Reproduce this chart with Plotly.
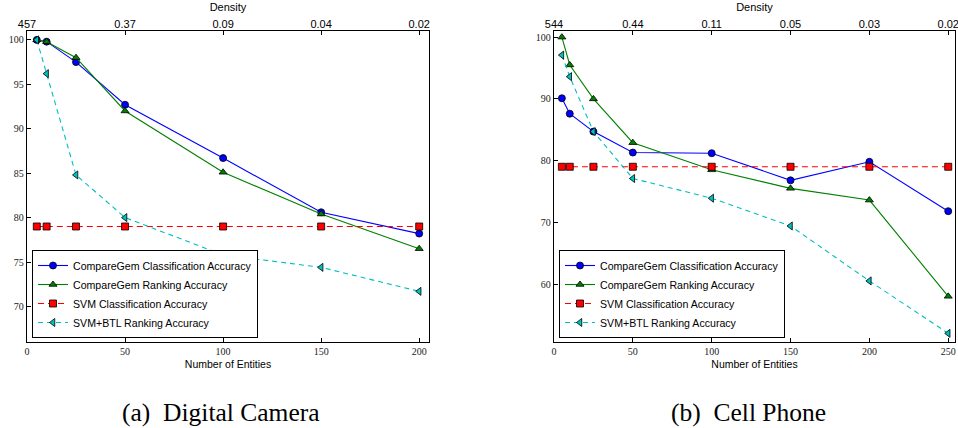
import plotly.graph_objects as go

W, H = 958, 428

# ---------------- data ----------------
series_names = [
    "CompareGem Classification Accuracy",
    "CompareGem Ranking Accuracy",
    "SVM Classification Accuracy",
    "SVM+BTL Ranking Accuracy",
]

cam_x = [5, 10, 25, 50, 100, 150, 200]
cam_cg_class = [100, 99.8, 97.5, 92.7, 86.7, 80.6, 78.2]
cam_cg_rank = [100, 99.8, 98.0, 92.0, 85.1, 80.4, 76.5]
cam_svm_class = [79, 79, 79, 79, 79, 79, 79]
cam_svmbtl_rank = [100, 96.2, 84.8, 80.0, 75.8, 74.4, 71.7]
cam_xticks = [0, 50, 100, 150, 200]
cam_yticks = [70, 75, 80, 85, 90, 95, 100]
cam_density_labels = ["457", "0.37", "0.09", "0.04", "0.02"]

phone_x = [5, 10, 25, 50, 100, 150, 200, 250]
phone_cg_class = [90.1, 87.6, 84.7, 81.3, 81.2, 76.8, 79.8, 71.8]
phone_cg_rank = [100, 95.5, 90.0, 82.9, 78.5, 75.5, 73.6, 58.0]
phone_svm_class = [79, 79, 79, 79, 79, 79, 79, 79]
phone_svmbtl_rank = [97.1, 93.6, 84.7, 77.1, 73.9, 69.4, 60.5, 52.0]
phone_xticks = [0, 50, 100, 150, 200, 250]
phone_yticks = [60, 70, 80, 90, 100]
phone_density_labels = ["544", "0.44", "0.11", "0.05", "0.03", "0.02"]

captions = ["(a)  Digital Camera", "(b)  Cell Phone"]

# ---------------- styles ----------------
styles = [
    dict(color="#0000ff", symbol="circle", dash="solid", size=7),
    dict(color="#008000", symbol="triangle-up", dash="solid", size=7),
    dict(color="#ff0000", symbol="square", dash="6px,4px", size=7),
    dict(color="#00bfbf", symbol="triangle-left", dash="5px,4px", size=7),
]

SERIF = "Liberation Serif"
SANS = "Liberation Sans"


def px_x(p):
    return p / W


def px_y(p):
    return 1 - p / H


fig = go.Figure()

panels = [
    dict(x=cam_x, ys=[cam_cg_class, cam_cg_rank, cam_svm_class, cam_svmbtl_rank],
         xa="x", ya="y", legend="legend"),
    dict(x=phone_x, ys=[phone_cg_class, phone_cg_rank, phone_svm_class, phone_svmbtl_rank],
         xa="x2", ya="y2", legend="legend2"),
]

for p in panels:
    for name, ys, st in zip(series_names, p["ys"], styles):
        fig.add_trace(go.Scatter(
            x=p["x"], y=ys, name=name, mode="lines+markers",
            xaxis=p["xa"], yaxis=p["ya"], legend=p["legend"],
            line=dict(color=st["color"], width=1.1, dash=st["dash"]),
            marker=dict(symbol=st["symbol"], size=st["size"], color=st["color"],
                        line=dict(color="black", width=0.8)),
        ))

# ---------------- axes ----------------
tickfont = dict(family=SERIF, size=10, color="#222")
common = dict(showline=True, linecolor="black", linewidth=1.3, mirror=True,
              ticks="inside", ticklen=4, tickwidth=1, tickcolor="black",
              showgrid=False, zeroline=False, tickfont=tickfont, automargin=False,
              ticklabeloverflow="allow")

dom_left = [px_x(27), px_x(429)]
dom_right = [px_x(554), px_x(955)]
dom_y = [px_y(342), px_y(31)]

top_common = dict(ticks="inside", ticklen=4, tickcolor="black", showline=False,
                  showgrid=False, zeroline=False, automargin=False,
                  ticklabeloverflow="allow",
                  tickfont=dict(family=SANS, size=11, color="black"))

fig.update_layout(
    width=W, height=H,
    margin=dict(l=0, r=0, t=0, b=0, pad=0, autoexpand=False),
    paper_bgcolor="white", plot_bgcolor="white",
    xaxis=dict(domain=dom_left, range=[0, 205], tickvals=cam_xticks, anchor="y",
               title=dict(text="Number of Entities", font=dict(family=SANS, size=10.5, color="black"), standoff=4),
               **common),
    yaxis=dict(domain=dom_y, range=[66, 101], tickvals=cam_yticks, anchor="x", **common),
    xaxis2=dict(domain=dom_right, range=[0, 254.3], tickvals=phone_xticks, anchor="y2",
                title=dict(text="Number of Entities", font=dict(family=SANS, size=10.5, color="black"), standoff=4),
                **common),
    yaxis2=dict(domain=dom_y, range=[50.6, 101], tickvals=phone_yticks, anchor="x2", **common),
    xaxis3=dict(overlaying="x", side="top", anchor="y", range=[0, 205],
                tickvals=cam_xticks, ticktext=cam_density_labels,
                title=dict(text="Density", font=dict(family=SANS, size=11, color="black"), standoff=3),
                **top_common),
    xaxis4=dict(overlaying="x2", side="top", anchor="y2", range=[0, 254.3],
                tickvals=phone_xticks, ticktext=phone_density_labels,
                title=dict(text="Density", font=dict(family=SANS, size=11, color="black"), standoff=3),
                **top_common),
    legend=dict(x=px_x(32), y=px_y(338), xanchor="left", yanchor="bottom",
                bgcolor="white", bordercolor="black", borderwidth=1,
                font=dict(family=SANS, size=10.6, color="black"), itemwidth=30),
    legend2=dict(x=px_x(559), y=px_y(338), xanchor="left", yanchor="bottom",
                 bgcolor="white", bordercolor="black", borderwidth=1,
                 font=dict(family=SANS, size=10.6, color="black"), itemwidth=30),
    showlegend=True,
)

# dummy traces so the top axes are drawn
fig.add_trace(go.Scatter(x=[None], y=[None], xaxis="x3", yaxis="y", showlegend=False, hoverinfo="skip"))
fig.add_trace(go.Scatter(x=[None], y=[None], xaxis="x4", yaxis="y2", showlegend=False, hoverinfo="skip"))

# captions
for text, cx in zip(captions, [221, 748]):
    fig.add_annotation(text=text, x=px_x(cx), y=px_y(412), xref="paper", yref="paper",
                       showarrow=False, xanchor="center", yanchor="middle",
                       font=dict(family=SERIF, size=25.5, color="black"))

fig.write_html("out.html", config={"displayModeBar": False},
               post_script="document.body.style.margin='0px';document.body.style.overflow='hidden';")
